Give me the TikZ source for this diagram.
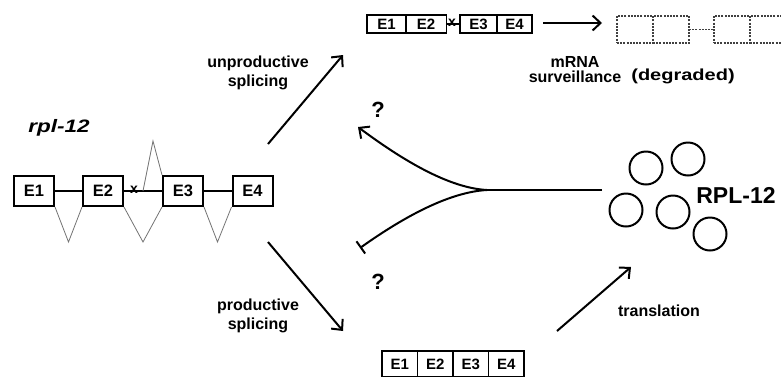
\documentclass[tikz,border=0pt]{standalone}
\usepackage{fontspec}
\setmainfont{Liberation Sans}
\newfontfamily\widesans[FakeStretch=1.25]{Liberation Sans}
\usepackage{tikz}
\usetikzlibrary{arrows.meta}
\usetikzlibrary{positioning}
\tikzset{exonbox/.style={draw,line width=2pt,minimum width=40,minimum height=30,inner sep=0pt,
   font=\fontsize{16.5}{19}\selectfont\bfseries},
 tcell/.style={draw,line width=1.9pt,minimum width=39,minimum height=18,inner sep=0pt,outer sep=0pt,
   font=\fontsize{15}{16}\selectfont\bfseries},
 dcell/.style={draw=black!75,dash pattern=on 2pt off 1.2pt,line width=1.1pt,minimum width=36,
   minimum height=27,inner sep=0pt,outer sep=0pt},
 lbl/.style={align=center,inner sep=0pt,font=\fontsize{16}{19.5}\selectfont\bfseries},
 qmark/.style={inner sep=0pt,font=\fontsize{22}{24}\selectfont\bfseries},
 ribo/.style={circle,draw,line width=2pt,minimum size=33,inner sep=0pt},
 arr/.style={line width=2pt,-{Straight Barb[length=8pt,width=15pt,line width=2pt]}},
 splice/.style={draw=black!55,line width=0.8pt},
 intron/.style={line width=1.7pt},
 stopmark/.style={inner sep=0pt,font=\fontsize{14}{14}\selectfont\bfseries},
 }

\begin{document}
\begin{tikzpicture}[x=1pt,y=-1pt]
    \useasboundingbox (0,0) rectangle (781,376);
    \node[inner sep=0pt,font=\fontsize{18}{20}\selectfont\widesans\bfseries\itshape] (gene) at (59,128) {rpl-12};
    \node[exonbox] (e1) at (34,191) {E1};
    \node[exonbox] (e2) at (103,191) {E2};
    \node[exonbox] (e3) at (183,191) {E3};
    \node[exonbox] (e4) at (252.5,191) {E4};
    \draw[intron] (e1) -- (e2);
    \draw[intron] (e2) -- (e3);
    \draw[intron] (e3) -- (e4);
    \node[stopmark] (stop) at (134,190) {x};
    \coordinate (v1) at (68.5,242);
    \coordinate (v2) at (143,242);
    \coordinate (v3) at (217.5,242);
    \coordinate (up) at (153,141);
    \coordinate (upstart) at (143,191);
    \draw[splice] (e1.south east) -- (v1) -- (e2.south west);
    \draw[splice] (e2.south east) -- (v2) -- (e3.south west);
    \draw[splice] (e3.south east) -- (v3) -- (e4.south west);
    \draw[splice] (upstart) -- (up) -- (e3.north west);

    \coordinate (us) at (268,144);
    \coordinate (ue) at (343,55);
    \coordinate (ps) at (268,242);
    \coordinate (pe) at (343,331);
    \draw[arr] (us) -- (ue);
    \draw[arr] (ps) -- (pe);
    \node[lbl] (unprod) at (258,73) {unproductive\\splicing};
    \node[lbl] (prod) at (258,316) {productive\\splicing};

    \node[tcell] (t1) at (386.5,24) {E1};
    \node[tcell,minimum width=41] (t2) at (426,24) {E2};
    \node[tcell,minimum width=37] (t3) at (478.5,24) {E3};
    \node[tcell,minimum width=35] (t4) at (514.5,24) {E4};
    \draw[intron] (t2) -- (t3);
    \node[stopmark] (stop2) at (452,23) {x};
    \coordinate (ss) at (543,23);
    \coordinate (se) at (602,23);
    \draw[arr] (ss) -- (se);
    \node[lbl,font=\fontsize{16}{15}\selectfont\bfseries] (surv) at (575,70) {mRNA\\surveillance};
    \node[dcell] (d1) at (635,29.5) {};
    \node[dcell] (d2) at (671,29.5) {};
    \node[dcell] (d3) at (732,29.5) {};
    \node[dcell] (d4) at (768,29.5) {};
    \draw[black!75,dash pattern=on 2pt off 1.2pt,line width=1.1pt] (d2) -- (d3);
    \node[lbl,font=\fontsize{16}{19}\selectfont\widesans\bfseries] (deg) at (683,76) {(degraded)};

    \node[tcell,minimum width=35.5,minimum height=26] (b1) at (399.75,364) {E1};
    \node[tcell,minimum width=35.5,minimum height=26] (b2) at (435.25,364) {E2};
    \node[tcell,minimum width=35.5,minimum height=26] (b3) at (470.75,364) {E3};
    \node[tcell,minimum width=35.5,minimum height=26] (b4) at (506.25,364) {E4};

    \coordinate (j) at (487,190);
    \coordinate (jr) at (602,190);
    \coordinate (qa) at (358,127);
    \coordinate (qb) at (360,248);
    \draw[line width=2pt] (jr) -- (j);
    \draw[arr] (j) .. controls (450,188) and (405,162) .. (qa);
    \draw[line width=2pt,-{Bar[width=15pt,line width=2pt]}] (j) .. controls (450,192) and (405,216) .. (qb);
    \node[qmark] (q1) at (378,110) {?};
    \node[qmark] (q2) at (378,282) {?};

    \node[ribo] (p1) at (646,168) {};
    \node[ribo] (p2) at (688,159) {};
    \node[ribo] (p3) at (626,210) {};
    \node[ribo] (p4) at (673,212) {};
    \node[ribo] (p5) at (710,234) {};
    \node[inner sep=0pt,font=\fontsize{23}{25}\selectfont\bfseries] (prot) at (736,195) {RPL-12};

    \coordinate (ts) at (557,331);
    \coordinate (te) at (631,267);
    \draw[arr] (ts) -- (te);
    \node[lbl] (transl) at (659,311) {translation};
\end{tikzpicture}
\end{document}
